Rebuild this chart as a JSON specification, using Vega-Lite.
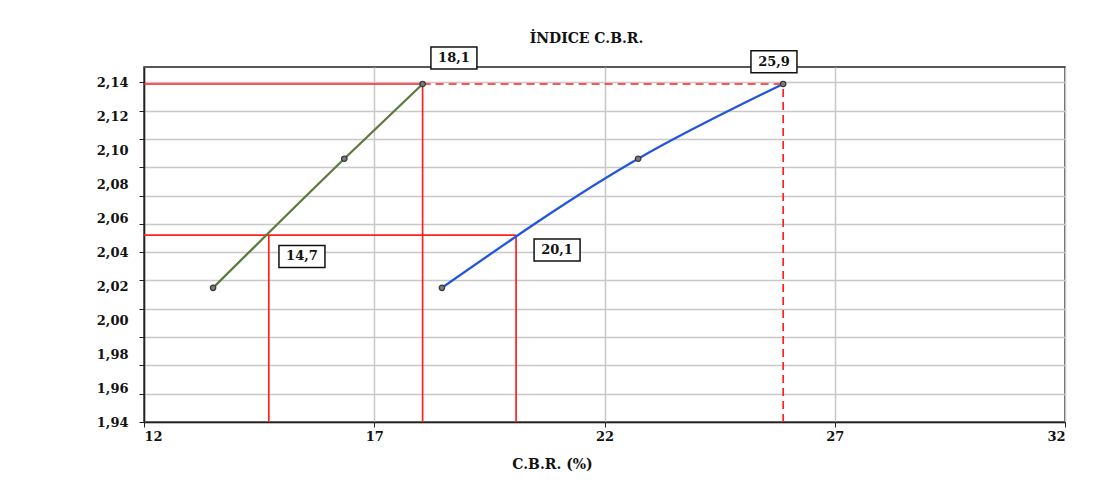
{
  "$schema": "https://vega.github.io/schema/vega-lite/v6.json",
  "autosize": "none",
  "width": 921,
  "height": 355,
  "padding": {"left": 144, "top": 67, "right": 28, "bottom": 70},
  "background": "white",
  "title": {
    "text": "İNDICE C.B.R.",
    "font": "DejaVu Serif",
    "fontSize": 14,
    "fontWeight": "bold",
    "color": "#111",
    "anchor": "middle",
    "frame": "group",
    "dx": -18,
    "offset": -2
  },
  "config": {
    "view": {"stroke": "#222", "strokeWidth": 1.5},
    "axis": {
      "labelFont": "DejaVu Serif",
      "labelFontSize": 13,
      "labelFontWeight": "bold",
      "labelColor": "#111",
      "titleFont": "DejaVu Serif",
      "titleFontSize": 14,
      "titleFontWeight": "bold",
      "titleColor": "#111",
      "domainColor": "#222",
      "domainWidth": 1.5,
      "tickColor": "#222",
      "gridColor": "#c8c8c8",
      "gridWidth": 1.5
    }
  },
  "datasets": {
    "curves": [
      {"serie": "A", "cbr": 13.5, "dens": 2.019},
      {"serie": "A", "cbr": 16.35, "dens": 2.095},
      {"serie": "A", "cbr": 18.05, "dens": 2.139},
      {"serie": "B", "cbr": 18.47, "dens": 2.019},
      {"serie": "B", "cbr": 22.73, "dens": 2.095},
      {"serie": "B", "cbr": 25.88, "dens": 2.139}
    ],
    "guides": [
      {"cbr": 12, "cbr2": 18.05, "dens": 2.139, "dens2": 2.139, "style": "solid"},
      {"cbr": 18.05, "cbr2": 25.88, "dens": 2.139, "dens2": 2.139, "style": "dashed"},
      {"cbr": 18.05, "cbr2": 18.05, "dens": 1.94, "dens2": 2.139, "style": "solid"},
      {"cbr": 25.88, "cbr2": 25.88, "dens": 1.94, "dens2": 2.139, "style": "dashed"},
      {"cbr": 12, "cbr2": 20.08, "dens": 2.05, "dens2": 2.05, "style": "solid"},
      {"cbr": 14.71, "cbr2": 14.71, "dens": 1.94, "dens2": 2.05, "style": "solid"},
      {"cbr": 20.08, "cbr2": 20.08, "dens": 1.94, "dens2": 2.05, "style": "solid"}
    ],
    "labels": [
      {"label": "18,1", "cbr": 18.73, "dens": 2.1543},
      {"label": "25,9", "cbr": 25.68, "dens": 2.1521},
      {"label": "14,7", "cbr": 15.43, "dens": 2.0375},
      {"label": "20,1", "cbr": 20.97, "dens": 2.0413}
    ]
  },
  "resolve": {"axis": {"y": "independent"}},
  "layer": [
    {
      "data": {"name": "guides"},
      "mark": {"type": "rule", "color": "#ff2020", "strokeWidth": 1.7},
      "encoding": {
        "x": {
          "field": "cbr", "type": "quantitative",
          "scale": {"domain": [12, 32], "nice": false, "zero": false},
          "axis": {
            "values": [12, 17, 22, 27, 32],
            "title": "C.B.R. (%)",
            "titleX": 408,
            "titlePadding": 14,
            "tickSize": 5,
            "labelPadding": 3,
            "grid": true
          }
        },
        "x2": {"field": "cbr2"},
        "y": {
          "field": "dens", "type": "quantitative",
          "scale": {"domain": [1.94, 2.149], "nice": false, "zero": false},
          "axis": {
            "values": [1.94, 1.956667, 1.973333, 1.99, 2.006667, 2.023333, 2.04, 2.056667, 2.073333, 2.09, 2.106667, 2.123333, 2.14],
            "labels": false,
            "title": null,
            "grid": true,
            "tickSize": 5
          }
        },
        "y2": {"field": "dens2"},
        "strokeDash": {
          "field": "style", "type": "nominal",
          "scale": {"domain": ["solid", "dashed"], "range": [[1, 0], [8, 5]]},
          "legend": null
        }
      }
    },
    {
      "data": {"name": "curves"},
      "mark": {"type": "line", "interpolate": "monotone", "strokeWidth": 2.3},
      "encoding": {
        "x": {"field": "cbr", "type": "quantitative"},
        "y": {
          "field": "dens", "type": "quantitative",
          "axis": {
            "orient": "left",
            "values": [1.94, 1.96, 1.98, 2.0, 2.02, 2.04, 2.06, 2.08, 2.10, 2.12, 2.14],
            "labelExpr": "replace(format(datum.value, '.2f'), '.', ',')",
            "grid": false,
            "ticks": false,
            "domain": false,
            "labelPadding": 16,
            "title": null
          }
        },
        "color": {
          "field": "serie", "type": "nominal",
          "scale": {"domain": ["A", "B"], "range": ["#5f7a3c", "#2456dc"]},
          "legend": null
        }
      }
    },
    {
      "data": {"name": "curves"},
      "mark": {"type": "point", "filled": true, "size": 30, "color": "#7a7a7a", "stroke": "#333", "strokeWidth": 1.2, "opacity": 1},
      "encoding": {
        "x": {"field": "cbr", "type": "quantitative"},
        "y": {"field": "dens", "type": "quantitative", "axis": null}
      }
    },
    {
      "data": {"name": "labels"},
      "mark": {"type": "point", "shape": "M-1.15,-0.55H1.15V0.55H-1.15Z", "size": 1600, "filled": true, "fill": "white", "stroke": "#111", "strokeWidth": 1.5, "opacity": 1},
      "encoding": {
        "x": {"field": "cbr", "type": "quantitative"},
        "y": {"field": "dens", "type": "quantitative", "axis": null}
      }
    },
    {
      "data": {"name": "labels"},
      "mark": {"type": "text", "font": "DejaVu Serif", "fontSize": 13, "fontWeight": "bold", "color": "#111", "align": "center", "baseline": "middle"},
      "encoding": {
        "x": {"field": "cbr", "type": "quantitative"},
        "y": {"field": "dens", "type": "quantitative", "axis": null},
        "text": {"field": "label"}
      }
    }
  ]
}
